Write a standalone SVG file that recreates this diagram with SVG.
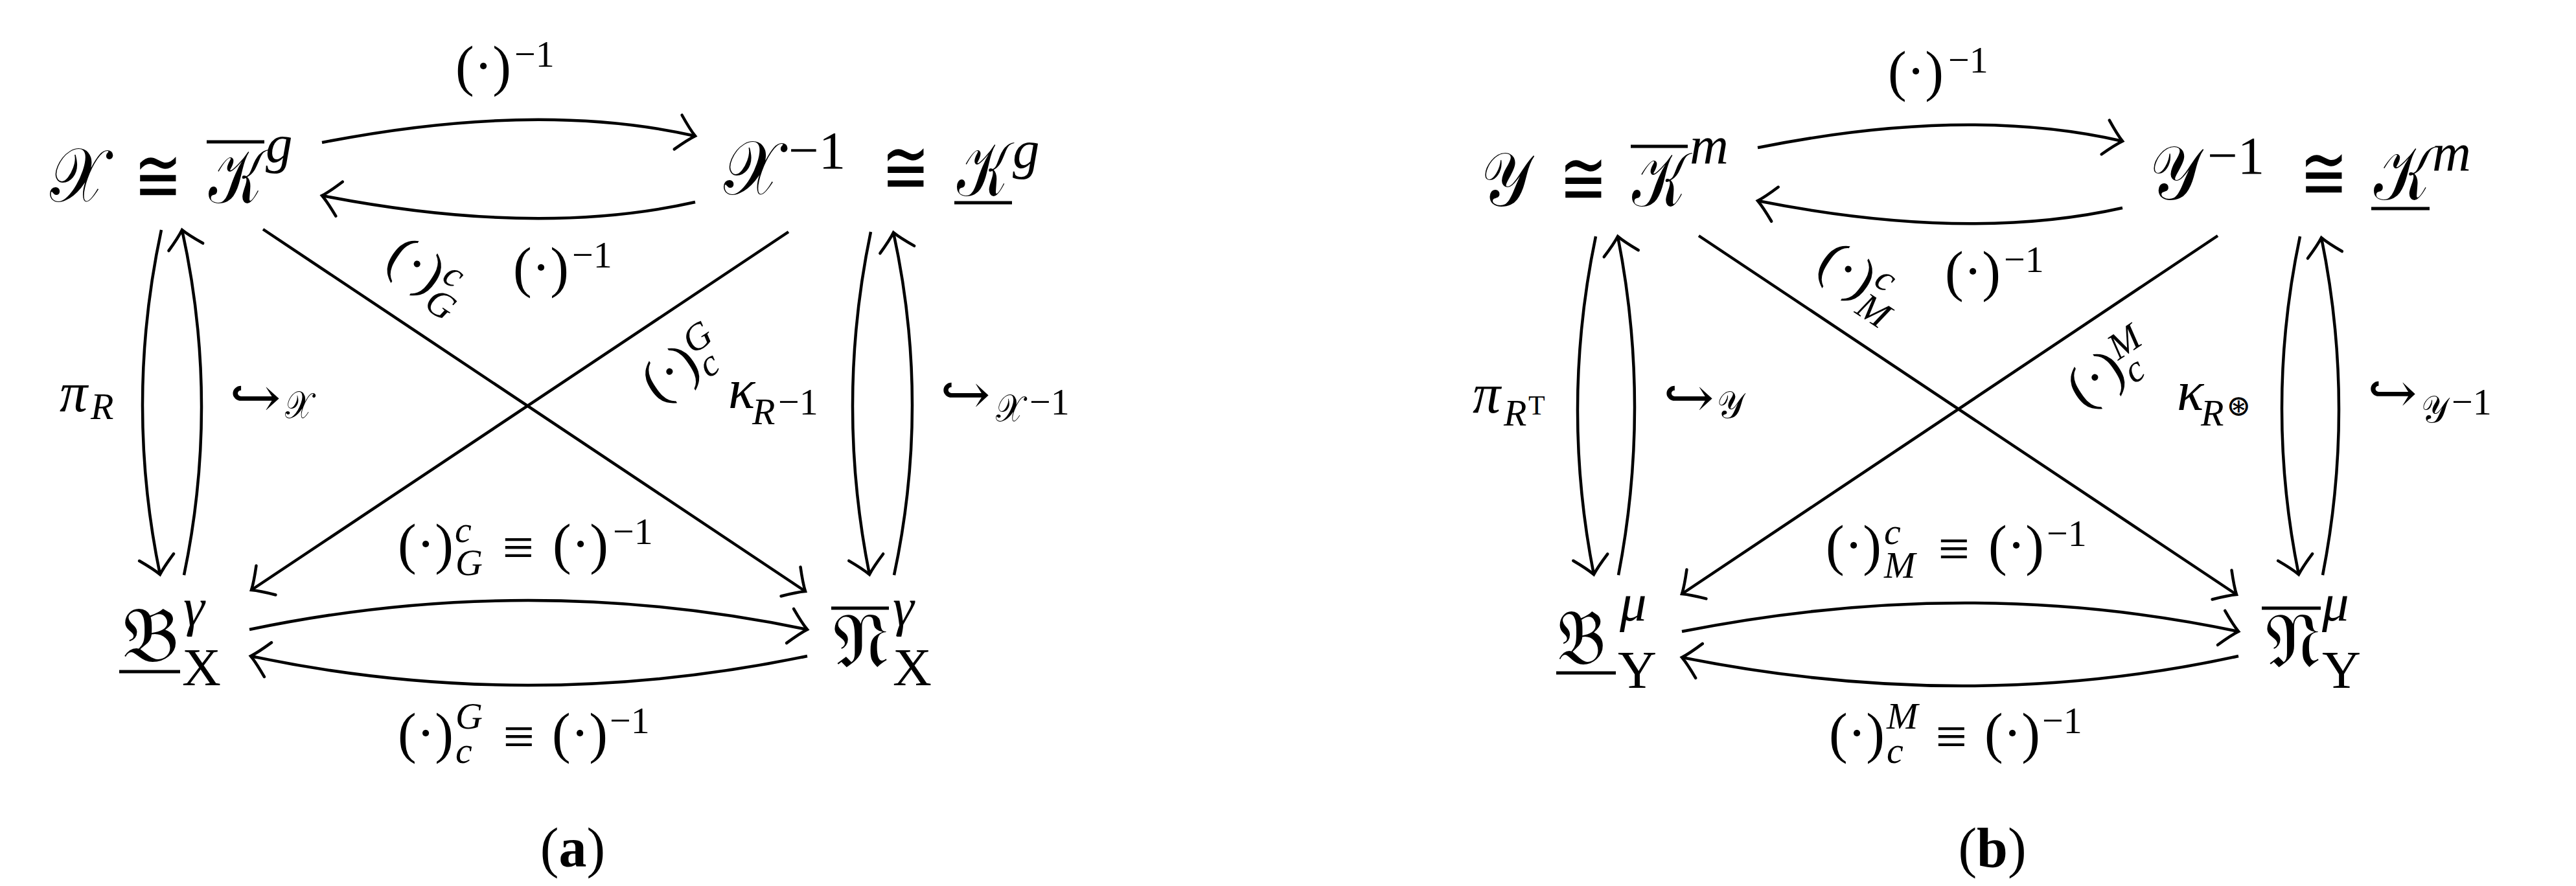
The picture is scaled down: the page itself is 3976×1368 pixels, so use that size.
<svg xmlns="http://www.w3.org/2000/svg" width="3976" height="1368" viewBox="0 0 3976 1368">
<style>
text { font-family: "Liberation Serif","DejaVu Serif",serif; fill:#000; }
.n { font-size:118px; }
.ns { font-size:83px; }
.l { font-size:86px; }
.ls { font-size:58px; }
.lt { font-size:42px; }
.i { font-style:italic; }
.sym { font-family:"DejaVu Serif","DejaVu Sans",serif; }
.cal { font-family:"DejaVu Serif","DejaVu Sans","Noto Sans",serif; }
.mid { text-anchor:middle; }
.b { font-weight:bold; }
.edge { fill:none; stroke:#000; stroke-width:4.5; }
.bar { stroke:#000; stroke-width:5; }
</style>
<defs>
<marker id="ah" markerUnits="userSpaceOnUse" orient="auto" overflow="visible" markerWidth="1" markerHeight="1" refX="0" refY="0">
<path d="M-27,-27 Q-10,-8 0,0 Q-10,8 -27,27" fill="none" stroke="#000" stroke-width="4.5" stroke-linecap="round"/>
</marker>
</defs>
<rect width="3976" height="1368" fill="#fff"/>

<!-- ===== Panel (a) nodes ===== -->
<g id="a-X">
<text class="n cal" x="77" y="311" textLength="86" lengthAdjust="spacingAndGlyphs">𝒳</text>
<text class="n sym mid" x="244" y="312" textLength="74" lengthAdjust="spacingAndGlyphs">≅</text>
<text class="n cal" x="322" y="313" textLength="83" lengthAdjust="spacingAndGlyphs">𝒦</text>
<line class="bar" x1="319" y1="219" x2="408" y2="219"/>
<text class="ns i" x="410" y="250">g</text>
</g>
<g id="a-Xinv">
<text class="n cal" x="1117" y="300" textLength="87" lengthAdjust="spacingAndGlyphs">𝒳</text>
<text class="ns" x="1217" y="260">−1</text>
<text class="n sym mid" x="1398" y="299" textLength="74" lengthAdjust="spacingAndGlyphs">≅</text>
<text class="n cal" x="1477" y="302" textLength="79" lengthAdjust="spacingAndGlyphs">𝒦</text>
<line class="bar" x1="1473" y1="313" x2="1562" y2="313"/>
<text class="ns i" x="1563" y="259">g</text>
</g>
<g id="a-B">
<text class="n cal" x="189" y="1021" textLength="87" lengthAdjust="spacingAndGlyphs">𝔅</text>
<line class="bar" x1="184" y1="1037" x2="278" y2="1037"/>
<text class="ns i" x="283" y="965">γ</text>
<text class="ns" x="281" y="1058">X</text>
</g>
<g id="a-N">
<text class="n cal" x="1286" y="1030" textLength="86" lengthAdjust="spacingAndGlyphs">𝔑</text>
<line class="bar" x1="1283" y1="939" x2="1372" y2="939"/>
<text class="ns i" x="1378" y="965">γ</text>
<text class="ns" x="1378" y="1058">X</text>
</g>

<!-- ===== Panel (b) nodes ===== -->
<g id="b-Y">
<text class="n cal" x="2286" y="318" textLength="77" lengthAdjust="spacingAndGlyphs">𝒴</text>
<text class="n sym mid" x="2444" y="316" textLength="74" lengthAdjust="spacingAndGlyphs">≅</text>
<text class="n cal" x="2519" y="318" textLength="83" lengthAdjust="spacingAndGlyphs">𝒦</text>
<line class="bar" x1="2517" y1="226" x2="2605" y2="226"/>
<text class="ns i" x="2608" y="252">m</text>
</g>
<g id="b-Yinv">
<text class="n cal" x="3318" y="308" textLength="78" lengthAdjust="spacingAndGlyphs">𝒴</text>
<text class="ns" x="3407" y="268">−1</text>
<text class="n sym mid" x="3587" y="308" textLength="74" lengthAdjust="spacingAndGlyphs">≅</text>
<text class="n cal" x="3664" y="308" textLength="87" lengthAdjust="spacingAndGlyphs">𝒦</text>
<line class="bar" x1="3660" y1="322" x2="3750" y2="322"/>
<text class="ns i" x="3754" y="263">m</text>
</g>
<g id="b-B">
<text class="n cal" x="2404" y="1025" textLength="74" lengthAdjust="spacingAndGlyphs">𝔅</text>
<line class="bar" x1="2402" y1="1039" x2="2494" y2="1039"/>
<text class="ns i" x="2500" y="958">μ</text>
<text class="ns" x="2497" y="1062">Y</text>
</g>
<g id="b-N">
<text class="n cal" x="3497" y="1030" textLength="85" lengthAdjust="spacingAndGlyphs">𝔑</text>
<line class="bar" x1="3491" y1="939" x2="3582" y2="939"/>
<text class="ns i" x="3584" y="958">μ</text>
<text class="ns" x="3584" y="1062">Y</text>
</g>

<!-- ===== Connectors ===== -->
<g id="connectors">
<path class="edge" marker-end="url(#ah)" d="M497,220 Q829,155 1073,210"/>
<path class="edge" marker-end="url(#ah)" d="M1073,312 Q829,367 497,302"/>
<path class="edge" marker-end="url(#ah)" d="M249,355 Q192,621 247,887"/>
<path class="edge" marker-end="url(#ah)" d="M284,888 Q339.5,621 281,355"/>
<path class="edge" marker-end="url(#ah)" d="M1344,358 Q1289,622 1342,887"/>
<path class="edge" marker-end="url(#ah)" d="M1380,888 Q1436.5,623 1379,359"/>
<path class="edge" marker-end="url(#ah)" d="M406,354 L1243,913"/>
<path class="edge" marker-end="url(#ah)" d="M1217,358 L388,911"/>
<path class="edge" marker-end="url(#ah)" d="M385,972 Q814.5,882 1246,972"/>
<path class="edge" marker-end="url(#ah)" d="M1246,1013 Q813.5,1103 387,1013"/>

<path class="edge" marker-end="url(#ah)" d="M2713,228 Q3037.5,163 3276,218"/>
<path class="edge" marker-end="url(#ah)" d="M3276,321 Q3037.5,374.5 2713,310"/>
<path class="edge" marker-end="url(#ah)" d="M2463,365 Q2408.5,626 2460,887"/>
<path class="edge" marker-end="url(#ah)" d="M2498,888 Q2548.5,626 2497,365"/>
<path class="edge" marker-end="url(#ah)" d="M3550,365 Q3495,626 3548,887"/>
<path class="edge" marker-end="url(#ah)" d="M3585,888 Q3636,627 3583,367"/>
<path class="edge" marker-end="url(#ah)" d="M2622,364 L3452,918"/>
<path class="edge" marker-end="url(#ah)" d="M3423,364 L2596,917"/>
<path class="edge" marker-end="url(#ah)" d="M2596,975 Q3040.5,887 3455,975"/>
<path class="edge" marker-end="url(#ah)" d="M3455,1013 Q3040.5,1104 2596,1015"/>
</g>

<!-- ===== Edge labels (a) ===== -->
<g id="a-labels">
<text class="l mid" x="746" y="131">(·)</text>
<text class="ls" x="794" y="103">−1</text>

<text class="l mid" x="835" y="442">(·)</text>
<text class="ls" x="883" y="413">−1</text>

<text class="l i" x="92" y="635">π</text>
<text class="ls i" x="140" y="647">R</text>

<text class="l sym" x="354" y="643" textLength="80" lengthAdjust="spacingAndGlyphs">↪</text>
<text class="ls cal" x="440" y="645" textLength="42" lengthAdjust="spacingAndGlyphs">𝒳</text>

<text class="l i" x="1124" y="630">κ</text>
<text class="ls i" x="1161" y="655">R</text>
<text class="ls" x="1201" y="640">−1</text>

<text class="l sym" x="1451" y="638" textLength="78" lengthAdjust="spacingAndGlyphs">↪</text>
<text class="ls cal" x="1537" y="650" textLength="43" lengthAdjust="spacingAndGlyphs">𝒳</text>
<text class="ls" x="1589" y="640">−1</text>

<g transform="translate(640,413) rotate(33.7)">
<text class="l mid" x="0" y="22">(·)</text>
<text class="ls i" x="44" y="-6">c</text>
<text class="ls i" x="44" y="44">G</text>
</g>
<g transform="translate(1037,579) rotate(-33.7)">
<text class="l mid" x="0" y="22">(·)</text>
<text class="ls i" x="44" y="-8">G</text>
<text class="ls i" x="44" y="36">c</text>
</g>

<text class="l mid" x="657" y="869">(·)</text>
<text class="ls i" x="702" y="837">c</text>
<text class="ls i" x="703" y="888">G</text>
<text class="l mid" x="800" y="874">≡</text>
<text class="l mid" x="896" y="869">(·)</text>
<text class="ls" x="946" y="840">−1</text>

<text class="l mid" x="657" y="1161">(·)</text>
<text class="ls i" x="703" y="1125">G</text>
<text class="ls i" x="703" y="1178">c</text>
<text class="l mid" x="801" y="1166">≡</text>
<text class="l mid" x="895" y="1161">(·)</text>
<text class="ls" x="941" y="1132">−1</text>
</g>

<!-- ===== Edge labels (b) ===== -->
<g id="b-labels">
<text class="l mid" x="2957" y="139">(·)</text>
<text class="ls" x="3007" y="112">−1</text>

<text class="l mid" x="3045" y="448">(·)</text>
<text class="ls" x="3093" y="420">−1</text>

<text class="l i" x="2273" y="637">π</text>
<text class="ls i" x="2321" y="657">R</text>
<text class="lt" x="2359" y="640">T</text>

<text class="l sym" x="2567" y="643" textLength="79" lengthAdjust="spacingAndGlyphs">↪</text>
<text class="ls cal" x="2650" y="645" textLength="41" lengthAdjust="spacingAndGlyphs">𝒴</text>

<text class="l i" x="3360" y="633">κ</text>
<text class="ls i" x="3397" y="657">R</text>
<text class="sym" style="font-size:46px" x="3436" y="642">⊛</text>

<text class="l sym" x="3654" y="636" textLength="77" lengthAdjust="spacingAndGlyphs">↪</text>
<text class="ls cal" x="3737" y="652" textLength="41" lengthAdjust="spacingAndGlyphs">𝒴</text>
<text class="ls" x="3784" y="640">−1</text>

<g transform="translate(2849,421) rotate(33.7)">
<text class="l mid" x="0" y="22">(·)</text>
<text class="ls i" x="44" y="-8">c</text>
<text class="ls i" x="44" y="44">M</text>
</g>
<g transform="translate(3237,588) rotate(-33.7)">
<text class="l mid" x="0" y="22">(·)</text>
<text class="ls i" x="44" y="-8">M</text>
<text class="ls i" x="44" y="36">c</text>
</g>

<text class="l mid" x="2861" y="871">(·)</text>
<text class="ls i" x="2908" y="840">c</text>
<text class="ls i" x="2908" y="892">M</text>
<text class="l mid" x="3016" y="876">≡</text>
<text class="l mid" x="3112" y="871">(·)</text>
<text class="ls" x="3159" y="843">−1</text>

<text class="l mid" x="2866" y="1161">(·)</text>
<text class="ls i" x="2912" y="1125">M</text>
<text class="ls i" x="2912" y="1178">c</text>
<text class="l mid" x="3012" y="1166">≡</text>
<text class="l mid" x="3106" y="1161">(·)</text>
<text class="ls" x="3152" y="1132">−1</text>
</g>

<!-- ===== Captions ===== -->
<text id="cap-a" class="l mid" x="884" y="1338">(<tspan class="b">a</tspan>)</text>
<text id="cap-b" class="l mid" x="3075" y="1338">(<tspan class="b">b</tspan>)</text>
</svg>
